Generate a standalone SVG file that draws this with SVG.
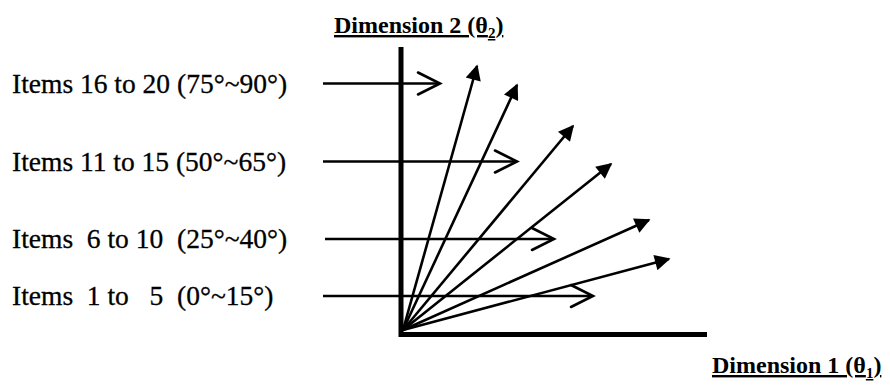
<svg xmlns="http://www.w3.org/2000/svg" width="890" height="392" viewBox="0 0 890 392">
<defs>
<style>
.lbl{font-family:"Liberation Serif","Times New Roman",serif;font-size:27.5px;fill:#000;stroke:#000;stroke-width:0.3;white-space:pre}
.ttl{font-family:"Liberation Serif","Times New Roman",serif;font-size:24px;font-weight:bold;fill:#000;text-decoration:underline}
.axis{stroke:#000;stroke-width:5;fill:none}
.vec{stroke:#000;stroke-width:2.6;fill:none;marker-end:url(#solid)}
.item{stroke:#000;stroke-width:2.6;fill:none}
.open{stroke:#000;stroke-width:2.6;fill:none;stroke-linecap:round;stroke-linejoin:miter}
</style>
<marker id="solid" viewBox="0 0 10 10" refX="9" refY="5" markerWidth="8" markerHeight="6" markerUnits="strokeWidth" orient="auto">
<path d="M0,0 L10,5 L0,10 Z" fill="#000"/>
</marker>
</defs>
<rect width="890" height="392" fill="#fff"/>
<g id="axis-dim2">
<line class="axis" x1="401" y1="47" x2="401" y2="337"/>
<text class="ttl" x="334" y="33">Dimension 2 (θ<tspan font-size="15" dy="5">2</tspan><tspan dy="-5">)</tspan></text>
</g>
<g id="axis-dim1">
<line class="axis" x1="399" y1="334.5" x2="707" y2="334.5"/>
<text class="ttl" x="712" y="373">Dimension 1 (θ<tspan font-size="15" dy="5">1</tspan><tspan dy="-5">)</tspan></text>
</g>
<g id="connectors">
<line class="vec" x1="403" y1="330" x2="477" y2="66"/>
<line class="vec" x1="403" y1="330" x2="517" y2="85"/>
<line class="vec" x1="403" y1="330" x2="573" y2="126"/>
<line class="vec" x1="403" y1="330" x2="611" y2="164"/>
<line class="vec" x1="403" y1="330" x2="649" y2="220"/>
<line class="vec" x1="403" y1="330" x2="669" y2="259"/>
</g>
<g id="items-16-20">
<text class="lbl" x="12" y="93">Items 16 to 20 (75°~90°)</text>
<line class="item" x1="323" y1="83.5" x2="439" y2="83.5"/>
<polyline class="open" points="418,72.5 440,83.5 418,94.5"/>
</g>
<g id="items-11-15">
<text class="lbl" x="12" y="171">Items 11 to 15 (50°~65°)</text>
<line class="item" x1="323" y1="161.5" x2="516" y2="161.5"/>
<polyline class="open" points="495,150.5 517,161.5 495,172.5"/>
</g>
<g id="items-6-10">
<text class="lbl" x="12" y="248">Items  6 to 10  (25°~40°)</text>
<line class="item" x1="325" y1="239" x2="553" y2="239"/>
<polyline class="open" points="532,228 554,239 532,250"/>
</g>
<g id="items-1-5">
<text class="lbl" x="12" y="305">Items  1 to   5  (0°~15°)</text>
<line class="item" x1="323" y1="296" x2="592" y2="296"/>
<polyline class="open" points="571,285 593,296 571,307"/>
</g>
</svg>
